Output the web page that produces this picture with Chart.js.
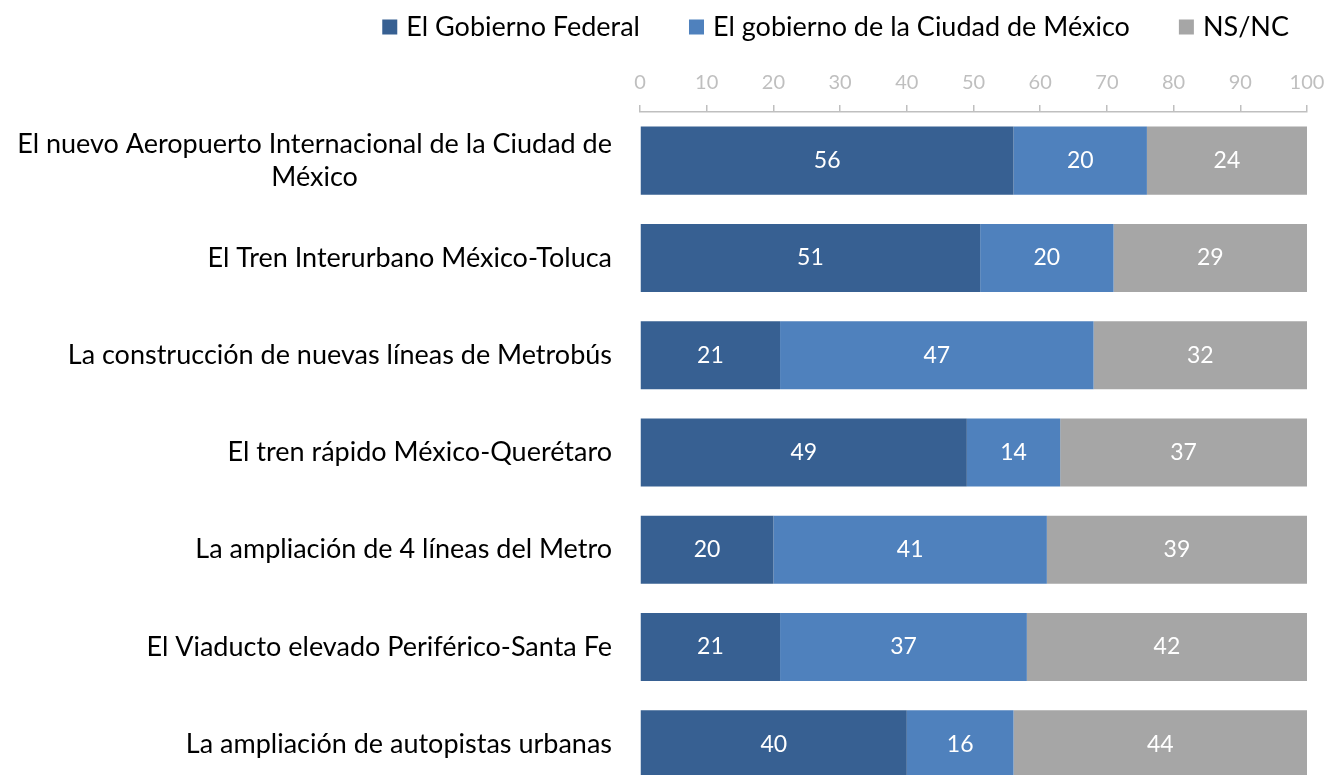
<!DOCTYPE html>
<html>
<head>
<meta charset="utf-8">
<script src="https://cdn.jsdelivr.net/npm/chart.js@4.4.0/dist/chart.umd.min.js"></script>
<style>
  html, body { margin: 0; padding: 0; background: #fff; overflow: hidden; }
  #wrap { width: 1330px; height: 793px; }
</style>
</head>
<body>
<div id="wrap"><canvas id="obras" width="1330" height="793"></canvas></div>
<script>
// categorias (eje vertical)
var categorias = [
    ["El nuevo Aeropuerto Internacional de la Ciudad de", "México"],
    "El Tren Interurbano México-Toluca",
    "La construcción de nuevas líneas de Metrobús",
    "El tren rápido México-Querétaro",
    "La ampliación de 4 líneas del Metro",
    "El Viaducto elevado Periférico-Santa Fe",
    "La ampliación de autopistas urbanas"
];

var gobiernoFederal = [56, 51, 21, 49, 20, 21, 40];
var gobiernoCDMX   = [20, 20, 47, 14, 41, 37, 16];
var nsnc           = [24, 29, 32, 37, 39, 42, 44];

var ejeX = [0, 10, 20, 30, 40, 50, 60, 70, 80, 90, 100];

var fuente = "Lato";

// etiquetas blancas dentro de cada barra
var etiquetasBarras = {
    id: "etiquetasBarras",
    afterDatasetsDraw: function (chart) {
        var ctx = chart.ctx;
        ctx.save();
        ctx.font = "23px " + fuente;
        ctx.fillStyle = "#ffffff";
        ctx.textAlign = "center";
        ctx.textBaseline = "middle";
        chart.data.datasets.forEach(function (ds, i) {
            chart.getDatasetMeta(i).data.forEach(function (bar, j) {
                var p = bar.getCenterPoint();
                ctx.fillText(ds.data[j], p.x, p.y);
            });
        });
        ctx.restore();
    }
};

// etiquetas de categorias (bloque alineado a la derecha, lineas centradas)
var etiquetasEje = {
    id: "etiquetasEje",
    afterDraw: function (chart) {
        var ctx = chart.ctx, y = chart.scales.y;
        ctx.save();
        ctx.font = "27px " + fuente;
        ctx.fillStyle = "#000000";
        ctx.textAlign = "center";
        ctx.textBaseline = "middle";
        var derecha = 612, alto = 33;
        chart.data.labels.forEach(function (lab, i) {
            var lineas = Array.isArray(lab) ? lab : [lab];
            var ancho = 0;
            lineas.forEach(function (l) { ancho = Math.max(ancho, ctx.measureText(l).width); });
            var cy = y.getPixelForValue(i);
            var y0 = cy - (lineas.length - 1) * alto / 2;
            lineas.forEach(function (l, k) {
                ctx.fillText(l, derecha - ancho / 2, y0 + k * alto);
            });
        });
        ctx.restore();
    }
};

// leyenda arriba a la derecha
var leyenda = {
    id: "leyenda",
    afterDraw: function (chart) {
        var ctx = chart.ctx;
        ctx.save();
        ctx.font = "27px " + fuente;
        ctx.textBaseline = "middle";
        ctx.textAlign = "left";
        var caja = 15, sep = 9, hueco = 49, cy = 27;
        var items = chart.data.datasets.map(function (ds) {
            return { t: ds.label, c: ds.backgroundColor, w: ctx.measureText(ds.label).width };
        });
        var total = 0;
        items.forEach(function (it, i) { total += caja + sep + it.w + (i ? hueco : 0); });
        var x = 1289 - total;
        items.forEach(function (it) {
            ctx.fillStyle = it.c;
            ctx.fillRect(x, cy - caja / 2, caja, caja);
            ctx.fillStyle = "#000000";
            ctx.fillText(it.t, x + caja + sep, cy);
            x += caja + sep + it.w + hueco;
        });
        ctx.restore();
    }
};

var ctx = document.getElementById("obras").getContext("2d");
var grafica = new Chart(ctx, {
    type: "bar",
    data: {
        labels: categorias,
        datasets: [{
                label: "El Gobierno Federal",
                data: gobiernoFederal,
                backgroundColor: "#376092"
            },
            {
                label: "El gobierno de la Ciudad de México",
                data: gobiernoCDMX,
                backgroundColor: "#4f81bd"
            },
            {
                label: "NS/NC",
                data: nsnc,
                backgroundColor: "#a6a6a6"
            }
        ]
    },
    options: {
        indexAxis: "y",
        responsive: false,
        animation: false,
        devicePixelRatio: 1,
        barPercentage: 0.7,
        categoryPercentage: 1,
        layout: { padding: { left: 0, right: 23, top: 0, bottom: 0 } },
        plugins: {
            legend: { display: false },
            tooltip: { enabled: false }
        },
        scales: {
            x: {
                position: "top",
                stacked: true,
                min: 0,
                max: 100,
                afterBuildTicks: function (s) {
                    s.ticks = ejeX.map(function (v) { return { value: v }; });
                },
                afterFit: function (s) {
                    s.height = 112;
                    s.paddingLeft = 0;
                    s.paddingRight = 0;
                },
                grid: { drawOnChartArea: false, drawTicks: true, tickLength: 7, color: "#bfbfbf", lineWidth: 1.5 },
                border: { display: true, color: "#bfbfbf", width: 1.5 },
                ticks: { color: "#bfbfbf", padding: 10, font: { family: fuente, size: 20 }, maxRotation: 0 }
            },
            y: {
                stacked: true,
                afterFit: function (s) { s.width = 640; },
                grid: { display: false },
                border: { display: false },
                ticks: { display: false }
            }
        }
    },
    plugins: [etiquetasBarras, etiquetasEje, leyenda]
});
</script>
</body>
</html>
